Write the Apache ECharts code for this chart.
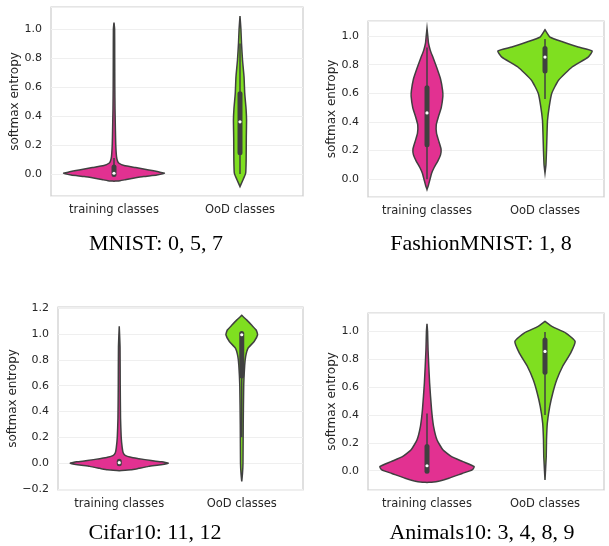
<!DOCTYPE html>
<html><head><meta charset="utf-8">
<script src="https://cdn.jsdelivr.net/npm/echarts@6/dist/echarts.min.js"></script>
<style>html,body{margin:0;padding:0;background:#fff}#c{width:609px;height:546px}</style>
</head><body><div id="c"></div>
<script>
const categories = ['training classes', 'OoD classes'];
const panelTitles = ['MNIST: 0, 5, 7', 'FashionMNIST: 1, 8', 'Cifar10: 11, 12', 'Animals10: 3, 4, 8, 9'];
const yAxisName = 'softmax entropy';

// violin density profiles: [softmax entropy, relative half-width]
const mnistTrain = [[1.045,0],[1.0,0.012],[0.8,0.014],[0.6,0.016],[0.45,0.02],[0.3,0.028],[0.2,0.035],[0.12,0.05],[0.09,0.07],[0.074,0.1],[0.058,0.2],[0.044,0.43],[0.028,0.69],[0.015,0.88],[0.005,1.0],[-0.007,0.85],[-0.018,0.59],[-0.03,0.38],[-0.04,0.22],[-0.046,0.12],[-0.05,0]];
const mnistOod = [[1.09,0],[1.0,0.018],[0.9,0.03],[0.786,0.05],[0.67,0.08],[0.556,0.094],[0.45,0.12],[0.372,0.13],[0.25,0.125],[0.097,0.122],[0.005,0.112],[-0.04,0.06],[-0.087,0]];
const fashionTrain = [[1.053,0],[1.0,0.017],[0.95,0.032],[0.9,0.07],[0.85,0.128],[0.78,0.206],[0.7,0.287],[0.62,0.33],[0.58,0.336],[0.5,0.302],[0.44,0.245],[0.38,0.196],[0.32,0.202],[0.26,0.255],[0.21,0.298],[0.17,0.287],[0.13,0.234],[0.08,0.149],[0.04,0.096],[0.0,0.064],[-0.04,0.032],[-0.072,0]];
const fashionOod = [[1.044,0],[0.993,0.106],[0.958,0.383],[0.923,0.702],[0.895,1.0],[0.853,0.915],[0.784,0.574],[0.69,0.283],[0.6,0.143],[0.505,0.089],[0.41,0.053],[0.32,0.043],[0.2,0.032],[0.1,0.02],[0.044,0]];
const cifarTrain = [[1.06,0],[0.9,0.016],[0.6,0.02],[0.35,0.026],[0.2,0.04],[0.12,0.06],[0.08,0.08],[0.06,0.12],[0.045,0.24],[0.035,0.4],[0.02,0.65],[0.01,0.87],[0.0,1.0],[-0.012,0.85],[-0.025,0.6],[-0.04,0.4],[-0.052,0.24],[-0.058,0]];
const cifarOod = [[1.145,0],[1.11,0.1],[1.07,0.2],[1.03,0.297],[0.995,0.323],[0.943,0.253],[0.89,0.127],[0.83,0.081],[0.76,0.06],[0.6,0.04],[0.3,0.03],[0.0,0.025],[-0.08,0.015],[-0.142,0]];
const animalsTrain = [[1.055,0],[1.0,0.012],[0.87,0.022],[0.63,0.055],[0.44,0.096],[0.32,0.138],[0.22,0.213],[0.15,0.336],[0.1,0.521],[0.065,0.762],[0.029,1.0],[0.005,0.957],[-0.02,0.745],[-0.055,0.462],[-0.08,0.19],[-0.085,0]];
const animalsOod = [[1.072,0],[1.036,0.143],[0.988,0.443],[0.928,0.638],[0.844,0.543],[0.748,0.372],[0.652,0.249],[0.556,0.164],[0.46,0.1],[0.34,0.049],[0.22,0.032],[0.1,0.026],[-0.067,0]];

// box stats: [whisker low, q1, median, q3, whisker high]
const mnistTrainBox = [0.0, 0.0, 0.005, 0.045, 0.11];
const mnistOodBox = [0.0, 0.15, 0.36, 0.55, 0.9];
const fashionTrainBox = [0.0, 0.245, 0.463, 0.635, 0.92];
const fashionOodBox = [0.56, 0.76, 0.853, 0.91, 0.98];
const cifarTrainBox = [0.0, 0.0, 0.004, 0.01, 0.02];
const cifarOodBox = [0.2, 0.68, 0.995, 1.0, 1.0];
const animalsTrainBox = [0.0, 0.0, 0.035, 0.17, 0.41];
const animalsOodBox = [0.40, 0.71, 0.856, 0.935, 0.995];

const violins = [[mnistTrain, mnistOod], [fashionTrain, fashionOod], [cifarTrain, cifarOod], [animalsTrain, animalsOod]];
const boxes = [[mnistTrainBox, mnistOodBox], [fashionTrainBox, fashionOodBox], [cifarTrainBox, cifarOodBox], [animalsTrainBox, animalsOodBox]];

const colors = ['#e23191', '#7fdf20'];
const edge = '#404040';
const textColor = '#262626';

const grids = [
  {left: 51, top: 7, width: 252, height: 189},
  {left: 368, top: 21, width: 236, height: 176},
  {left: 58, top: 307, width: 245, height: 183},
  {left: 368, top: 313, width: 236, height: 177}
];
const yRanges = [[-0.152, 1.152], [-0.124, 1.105], [-0.208, 1.21], [-0.139, 1.132]];
const nameGaps = [30, 22, 36, 24];
const titlePos = [[156, 244], [481, 244], [155, 533], [482, 533]];

const chart = echarts.init(document.getElementById('c'), null, {renderer: 'canvas'});

function makeRender(p) {
  return function (params, api) {
    const idx = api.value(0);
    const prof = violins[p][idx];
    const band = api.size([1, 0])[0];
    const half = 0.4 * band;
    const right = [], left = [];
    for (let k = 0; k < prof.length; k++) {
      const c = api.coord([idx, prof[k][0]]);
      right.push([c[0] + prof[k][1] * half, c[1]]);
      left.unshift([c[0] - prof[k][1] * half, c[1]]);
    }
    const pts = right.concat(left);
    const b = boxes[p][idx];
    const wl = api.coord([idx, b[0]]), q1 = api.coord([idx, b[1]]), md = api.coord([idx, b[2]]), q3 = api.coord([idx, b[3]]), wh = api.coord([idx, b[4]]);
    return {
      type: 'group',
      children: [
        {type: 'polygon', shape: {points: pts, smooth: 0.15}, style: {fill: colors[idx], stroke: edge, lineWidth: 1.5}},
        {type: 'line', shape: {x1: wl[0], y1: wl[1], x2: wh[0], y2: wh[1]}, style: {stroke: edge, lineWidth: 1.5}},
        {type: 'line', shape: {x1: q1[0], y1: q1[1] + 0.5, x2: q3[0], y2: q3[1] - 0.5}, style: {stroke: edge, lineWidth: 5, lineCap: 'round'}},
        {type: 'circle', shape: {cx: md[0], cy: md[1], r: 1.6}, style: {fill: '#ffffff', stroke: null}}
      ]
    };
  };
}

const option = {
  backgroundColor: '#ffffff',
  animation: false,
  grid: grids.map(g => Object.assign({show: true, borderColor: '#cccccc', borderWidth: 1.2, backgroundColor: 'transparent', containLabel: false}, g)),
  xAxis: grids.map((g, i) => ({
    type: 'category', gridIndex: i, data: categories, boundaryGap: true,
    axisLine: {show: false}, axisTick: {show: false}, splitLine: {show: false},
    axisLabel: {color: textColor, fontFamily: 'DejaVu Sans', fontSize: 11.5, margin: 8}
  })),
  yAxis: grids.map((g, i) => ({
    type: 'value', gridIndex: i, min: yRanges[i][0], max: yRanges[i][1], splitNumber: 6,
    name: yAxisName, nameLocation: 'middle', nameGap: nameGaps[i], nameRotate: 90,
    nameTextStyle: {color: textColor, fontFamily: 'DejaVu Sans', fontSize: 12},
    axisLine: {show: false}, axisTick: {show: false},
    splitLine: {show: true, lineStyle: {color: '#efefef', width: 1}},
    axisLabel: {color: textColor, fontFamily: 'DejaVu Sans', fontSize: 11, margin: 9, showMinLabel: false, showMaxLabel: false,
      formatter: v => (Math.abs(v - Math.round(v * 5) / 5) > 1e-6 ? '' : v.toFixed(1).replace('-', '\u2212'))}
  })),
  series: grids.map((g, i) => ({
    type: 'custom', xAxisIndex: i, yAxisIndex: i, renderItem: makeRender(i),
    data: [[0], [1]], clip: false, z: 3
  })),
  graphic: panelTitles.map((t, i) => ({
    type: 'text', x: titlePos[i][0], y: titlePos[i][1],
    style: {text: t, font: '22px "Liberation Serif"', fill: '#000', textAlign: 'center', textVerticalAlign: 'middle'}
  }))
};
chart.setOption(option);
</script></body></html>
